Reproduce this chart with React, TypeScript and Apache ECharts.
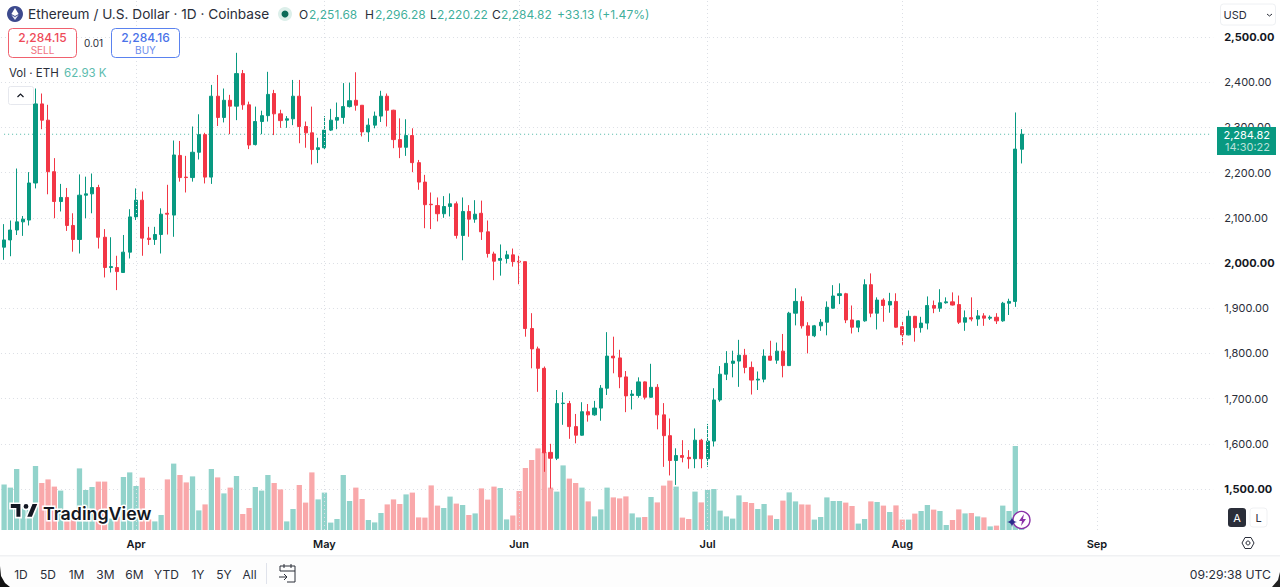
import React, { useEffect, useRef } from "react";
import * as echarts from "echarts";

echarts.graphic.registerShape(
  "tvLogo",
  echarts.graphic.extendPath(
    "M14 22H7V11H0V4h14v18zM28 22h-8l7.5-18h8L28 22zM20 4a4 4 0 1 1 0 8a4 4 0 0 1 0-8z",
    {}
  )
);
echarts.graphic.registerShape(
  "bolt",
  echarts.graphic.extendPath("M6 0L1 7h3L3 12L8 5H5z", {})
);
echarts.graphic.registerShape(
  "spark",
  echarts.graphic.extendPath("M5 0C5.4 3 7 4.6 10 5C7 5.4 5.4 7 5 10C4.6 7 3 5.4 0 5C3 4.6 4.6 3 5 0z", {})
);

const FONT = "Inter, 'Noto Sans', sans-serif";
const UP = "#089981";
const DOWN = "#f23645";
const UP_SOFT = "#92d3cb";
const DOWN_SOFT = "#f9a8aa";
const GRID_DOT = "#dcdfe5";

const monthTicks: Record<number, string> = { 21: "Apr", 51: "May", 82: "Jun", 112: "Jul", 143: "Aug", 174: "Sep" };
const periodButtons: [string, number][] = [
  ["1D", 21], ["5D", 48], ["1M", 76.5], ["3M", 105.5], ["6M", 134.5], ["YTD", 166.5], ["1Y", 198], ["5Y", 224], ["All", 249.5],
];
const priceLast = 2284.82;

// open, close, low, high
const ohlc: number[][] = [
  [2035,2051,2007,2086],[2051,2073,2015,2094],[2073,2091,2062,2209],[2091,2097,2060,2104],[2095,2177,2083,2201],
  [2177,2352,2165,2386],[2352,2316,2296,2375],[2316,2202,2152,2350],[2202,2136,2099,2232],[2136,2145,2114,2175],
  [2145,2083,2071,2166],[2083,2052,2025,2110],[2052,2150,2021,2196],[2150,2153,2099,2191],[2153,2167,2110,2198],
  [2167,2057,2032,2173],[2057,1990,1968,2075],[1990,1992,1979,2057],[1990,1981,1940,2016],[1979,2024,1979,2062],
  [2024,2102,2010,2119],[2102,2139,2095,2165],[2139,2055,2016,2158],[2055,2052,2040,2080],[2052,2063,2040,2080],
  [2063,2108,2021,2121],[2110,2108,2063,2173],[2106,2239,2058,2271],[2238,2189,2180,2270],[2190,2189,2156,2237],
  [2189,2245,2180,2302],[2245,2284,2229,2329],[2284,2190,2176,2288],[2190,2369,2175,2394],[2369,2322,2303,2416],
  [2322,2360,2311,2386],[2360,2347,2285,2372],[2347,2419,2316,2465],[2419,2350,2339,2427],[2350,2261,2252,2357],
  [2262,2313,2260,2346],[2313,2326,2285,2337],[2326,2373,2313,2423],[2375,2330,2283,2383],[2330,2315,2299,2339],
  [2316,2319,2299,2325],[2319,2369,2305,2405],[2369,2302,2265,2405],[2302,2288,2255,2313],[2288,2251,2218,2346],
  [2251,2255,2221,2277],[2255,2294,2250,2325],[2294,2316,2292,2341],[2316,2322,2296,2355],[2322,2346,2308,2398],
  [2346,2359,2344,2399],[2360,2349,2337,2422],[2349,2290,2280,2349],[2290,2305,2268,2320],[2305,2325,2298,2335],
  [2325,2369,2312,2381],[2369,2338,2302,2375],[2338,2273,2254,2339],[2273,2256,2232,2320],[2256,2282,2237,2318],
  [2282,2222,2201,2298],[2222,2179,2162,2228],[2179,2129,2077,2195],[2130,2129,2075,2156],[2127,2109,2092,2145],
  [2109,2125,2100,2148],[2125,2131,2103,2154],[2131,2061,2054,2136],[2061,2114,2006,2145],[2114,2097,2058,2128],
  [2097,2108,2089,2139],[2110,2069,2051,2138],[2069,2021,2012,2094],[2020,2004,1962,2025],[2006,2010,1972,2041],
  [2010,2018,1999,2027],[2018,2003,1992,2032],[2004,2002,1953,2016],[2003,1855,1837,2003],[1855,1810,1767,1889],
  [1810,1767,1715,1815],[1767,1580,1538,1771],[1581,1568,1501,1600],[1568,1689,1564,1719],[1689,1690,1642,1714],
  [1689,1638,1611,1695],[1638,1619,1601,1666],[1619,1671,1618,1692],[1671,1664,1649,1688],[1664,1679,1662,1695],
  [1679,1723,1651,1730],[1723,1794,1708,1847],[1794,1790,1756,1837],[1790,1748,1723,1808],[1748,1706,1670,1761],
  [1707,1710,1676,1719],[1707,1737,1702,1747],[1737,1703,1698,1738],[1703,1725,1702,1777],[1725,1664,1632,1732],
  [1664,1618,1549,1690],[1618,1563,1530,1656],[1563,1574,1509,1590],[1574,1570,1559,1608],[1570,1567,1545,1586],
  [1567,1608,1546,1634],[1608,1567,1546,1611],[1567,1606,1549,1644],[1606,1697,1594,1723],[1697,1754,1693,1772],
  [1754,1778,1741,1805],[1778,1783,1747,1806],[1783,1796,1726,1830],[1796,1769,1756,1810],[1769,1741,1709,1782],
  [1741,1743,1719,1760],[1743,1794,1736,1809],[1794,1785,1784,1828],[1785,1805,1777,1824],[1805,1773,1747,1843],
  [1773,1889,1772,1892],[1889,1915,1862,1944],[1915,1861,1855,1926],[1861,1840,1800,1869],[1839,1861,1836,1863],
  [1861,1869,1850,1876],[1869,1902,1840,1915],[1900,1927,1899,1951],[1928,1932,1909,1955],[1932,1874,1867,1934],
  [1874,1858,1844,1906],[1858,1872,1847,1873],[1872,1952,1870,1964],[1952,1889,1880,1977],[1889,1918,1853,1924],
  [1918,1906,1870,1922],[1907,1915,1890,1934],[1915,1858,1857,1933],[1859,1841,1819,1872],[1841,1882,1840,1895],
  [1882,1857,1826,1883],[1857,1867,1846,1881],[1867,1906,1853,1926],[1906,1900,1889,1917],[1900,1912,1892,1942],
  [1912,1914,1910,1924],[1914,1907,1906,1935],[1908,1869,1865,1928],[1869,1879,1850,1895],[1879,1876,1871,1924],
  [1876,1883,1861,1896],[1883,1878,1861,1889],[1878,1880,1874,1884],[1880,1872,1865,1889],[1872,1911,1870,1914],
  [1911,1915,1885,1921],[1915,2252,1903,2333],[2251.68,2284.82,2220.22,2296.28],
];

// thousands of ETH
const volumes: number[] = [
  228,212,305,117,117,320,235,253,217,197,47,53,308,200,215,242,242,57,67,265,288,220,262,53,43,75,253,332,275,238,
  268,98,128,305,263,183,212,270,80,110,215,197,275,235,203,43,105,225,137,288,153,187,37,55,275,145,212,155,50,38,
  85,128,153,130,178,187,63,62,223,122,110,167,132,125,75,83,208,152,217,210,53,73,195,310,350,408,390,212,192,323,
  257,235,212,143,68,103,212,163,158,168,83,63,65,165,138,222,247,217,62,55,192,138,200,205,97,68,57,173,140,135,
  105,130,73,55,147,188,143,128,127,52,65,163,145,145,137,120,32,55,143,140,122,90,123,52,52,82,95,125,102,95,
  25,50,103,83,85,68,63,18,22,122,95,420,62.93,
];

const categories: string[] = Array.from({ length: 193 }, (_, i) =>
  new Date(Date.UTC(2025, 2, 11 + i)).toISOString().slice(0, 10)
);
const monthIndexes = Object.keys(monthTicks).map(Number);

const fmt = (v: number) => v.toLocaleString("en-US", { minimumFractionDigits: 2, maximumFractionDigits: 2 });

const txt = (text: string, x: number, y: number, o: any = {}) => ({
  type: "text",
  silent: true,
  z: o.z ?? 100,
  style: {
    text,
    x,
    y,
    fill: o.fill ?? "#131722",
    fontFamily: FONT,
    fontSize: o.size ?? 12,
    fontWeight: o.weight ?? 400,
    textAlign: o.align ?? "left",
    textVerticalAlign: "middle",
    opacity: o.opacity ?? 1,
    stroke: o.stroke,
    lineWidth: o.lineWidth,
  },
});

const chrome: any[] = [
  // bottom toolbar
  { type: "rect", z: 90, silent: true, shape: { x: 0, y: 556, width: 1280, height: 31 }, style: { fill: "#fdfdfd" } },
  { type: "rect", z: 90, silent: true, shape: { x: 0, y: 555, width: 1280, height: 1.5 }, style: { fill: "#f0f1f3" } },
  { type: "polygon", z: 99, silent: true, shape: { points: [[0, 566], [1, 576], [5, 583], [10, 587], [0, 587]] }, style: { fill: "#111" } },
  { type: "polygon", z: 99, silent: true, shape: { points: [[1280, 572], [1278, 580], [1272, 587], [1280, 587]] }, style: { fill: "#222" } },
  ...periodButtons.map(([t, x]) => txt(t, x, 574, { align: "center", size: 12, fill: "#2a2e39" })),
  { type: "rect", z: 100, silent: true, shape: { x: 266, y: 563, width: 1, height: 21 }, style: { fill: "#e0e3eb" } },
  { type: "polyline", z: 100, silent: true, shape: { points: [[280, 571], [280, 566], [295, 566], [295, 582], [287, 582]] }, style: { stroke: "#2a2e39", fill: "none", lineWidth: 1 } },
  { type: "line", z: 100, silent: true, shape: { x1: 280, y1: 571, x2: 295, y2: 571 }, style: { stroke: "#2a2e39", lineWidth: 1 } },
  { type: "line", z: 100, silent: true, shape: { x1: 284, y1: 564, x2: 284, y2: 568 }, style: { stroke: "#2a2e39", lineWidth: 1 } },
  { type: "line", z: 100, silent: true, shape: { x1: 291, y1: 564, x2: 291, y2: 568 }, style: { stroke: "#2a2e39", lineWidth: 1 } },
  { type: "polyline", z: 100, silent: true, shape: { points: [[279, 577], [287, 577], [284, 574]] }, style: { stroke: "#2a2e39", fill: "none", lineWidth: 1 } },
  { type: "line", z: 100, silent: true, shape: { x1: 287, y1: 577, x2: 284, y2: 580 }, style: { stroke: "#2a2e39", lineWidth: 1 } },
  txt("09:29:38 UTC", 1271, 574, { align: "right", size: 12.2, fill: "#2a2e39" }),

  // header
  { type: "circle", z: 100, silent: true, shape: { cx: 15, cy: 14, r: 8 }, style: { fill: "#3d4a8e" } },
  { type: "polygon", z: 101, silent: true, shape: { points: [[15, 8], [18.6, 14], [15, 16], [11.4, 14]] }, style: { fill: "#fff" } },
  { type: "polygon", z: 101, silent: true, shape: { points: [[11.4, 15], [15, 17], [18.6, 15], [15, 20]] }, style: { fill: "#dfe2f2" } },
  txt("Ethereum / U.S. Dollar · 1D · Coinbase", 28, 14, { size: 13.65, fill: "#2a2e39" }),
  { type: "circle", z: 100, silent: true, shape: { cx: 285, cy: 14, r: 7 }, style: { fill: "#dcefea" } },
  { type: "circle", z: 101, silent: true, shape: { cx: 285, cy: 14, r: 3.5 }, style: { fill: "#0b6b58" } },
  txt("O", 299, 14, { size: 12, fill: "#2a2e39" }),
  txt("2,251.68", 309, 14, { size: 12, fill: UP, opacity: 0.8 }),
  txt("H", 365, 14, { size: 12, fill: "#2a2e39" }),
  txt("2,296.28", 375, 14, { size: 12, fill: UP, opacity: 0.8 }),
  txt("L", 430, 14, { size: 12, fill: "#2a2e39" }),
  txt("2,220.22", 437, 14, { size: 12, fill: UP, opacity: 0.8 }),
  txt("C", 492, 14, { size: 12, fill: "#2a2e39" }),
  txt("2,284.82", 501, 14, { size: 12, fill: UP, opacity: 0.8 }),
  txt("+33.13 (+1.47%)", 557, 14, { size: 12.1, fill: UP, opacity: 0.8 }),

  // sell / buy
  { type: "rect", z: 100, silent: true, shape: { x: 8.5, y: 28.5, width: 68, height: 29, r: 4 }, style: { fill: "#fff", stroke: "#f0616e", lineWidth: 1 } },
  txt("2,284.15", 42.5, 37, { align: "center", size: 12, weight: 500, fill: "#ee4a58" }),
  txt("SELL", 42.5, 49.5, { align: "center", size: 10, fill: "#f0747f" }),
  txt("0.01", 93.5, 43, { align: "center", size: 10, fill: "#2a2e39" }),
  { type: "rect", z: 100, silent: true, shape: { x: 111.5, y: 28.5, width: 68, height: 29, r: 4 }, style: { fill: "#fff", stroke: "#5a82ef", lineWidth: 1 } },
  txt("2,284.16", 145.5, 37, { align: "center", size: 12, weight: 500, fill: "#4a72e8" }),
  txt("BUY", 145.5, 49.5, { align: "center", size: 10, fill: "#6b8cec" }),

  // volume legend
  txt("Vol · ETH", 9, 73, { size: 11.5, fill: "#2a2e39" }),
  txt("62.93 K", 64, 73, { size: 11.5, fill: "#5cbcae" }),
  { type: "rect", z: 100, silent: true, shape: { x: 8.5, y: 86.5, width: 25, height: 18, r: 2 }, style: { fill: "#fff", stroke: "#e6e8ee", lineWidth: 1 } },
  { type: "polyline", z: 101, silent: true, shape: { points: [[17.5, 97], [20.5, 94], [23.5, 97]] }, style: { stroke: "#131722", fill: "none", lineWidth: 1.2 } },

  // currency
  { type: "rect", z: 100, silent: true, shape: { x: 1220.5, y: 4, width: 55, height: 21, r: 3 }, style: { fill: "#fff", stroke: "#eef0f3", lineWidth: 1 } },
  txt("USD", 1223.5, 15, { size: 11, fill: "#2a2e39" }),
  { type: "polyline", z: 101, silent: true, shape: { points: [[1267, 14], [1269.5, 16], [1272, 14]] }, style: { stroke: "#2a2e39", fill: "none", lineWidth: 1 } },

  // price tag
  { type: "rect", z: 100, silent: true, shape: { x: 1217, y: 127, width: 59, height: 28 }, style: { fill: UP } },
  txt("2,284.82", 1270, 134.5, { align: "right", size: 11, fill: "#ffffff" }),
  txt("14:30:22", 1270, 147, { align: "right", size: 11, fill: "#ffffff", opacity: 0.72 }),

  // auto / log
  { type: "rect", z: 100, silent: true, shape: { x: 1228, y: 508, width: 18, height: 19, r: 3 }, style: { fill: "#2a2e39" } },
  txt("A", 1237, 517.5, { align: "center", size: 11, fill: "#fff" }),
  { type: "rect", z: 100, silent: true, shape: { x: 1250, y: 508, width: 17, height: 19, r: 3 }, style: { fill: "#fff", stroke: "#f0f1f3", lineWidth: 1 } },
  txt("L", 1258.5, 517.5, { align: "center", size: 11, fill: "#2a2e39" }),
  { type: "polygon", z: 100, silent: true, shape: { points: [[1242, 543], [1245, 537.5], [1251, 537.5], [1254, 543], [1251, 548.5], [1245, 548.5]] }, style: { stroke: "#2a2e39", fill: "none", lineWidth: 1 } },
  { type: "circle", z: 100, silent: true, shape: { cx: 1248, cy: 543, r: 2 }, style: { stroke: "#2a2e39", fill: "none", lineWidth: 1 } },

  // logo
  { type: "tvLogo", z: 100, silent: true, x: 10, y: 500, scaleX: 0.8, scaleY: 0.8, style: { fill: "#131722", stroke: "#ffffff", lineWidth: 2 } },
  txt("TradingView", 43, 513, { size: 17.8, weight: 600, fill: "#131722", stroke: "#ffffff", lineWidth: 3 }),

  // bolt badge
  { type: "circle", z: 100, silent: true, shape: { cx: 1021.5, cy: 520, r: 8.5 }, style: { fill: "#fff", stroke: "#8a32a8", lineWidth: 1.4 } },
  { type: "bolt", z: 101, silent: true, x: 1018, y: 514, style: { fill: "#8a32a8" } },
  { type: "spark", z: 101, silent: true, x: 1007, y: 517, style: { fill: "#2c2a8c" } },
];

export default function App() {
  const ref = useRef<HTMLDivElement>(null);

  useEffect(() => {
    document.body.style.margin = "0";
    const chart = echarts.init(ref.current!, undefined, { renderer: "svg" });
    const left = 0.96;
    const width = 1212.2;
    chart.setOption({
      animation: false,
      backgroundColor: "#ffffff",
      grid: [
        { left, width, top: 37, height: 452 },
        { left, width, top: 0, height: 530 },
      ],
      xAxis: [
        { type: "category", gridIndex: 0, data: categories, show: false, boundaryGap: true },
        {
          type: "category",
          gridIndex: 1,
          data: categories,
          boundaryGap: true,
          axisLine: { show: false },
          axisTick: { show: false },
          splitLine: { show: false },
          axisLabel: {
            interval: (i: number) => monthTicks[i] !== undefined,
            formatter: (_: string, i: number) => monthTicks[i] ?? "",
            margin: 8,
            fontFamily: FONT,
            fontSize: 11,
            fontWeight: 600,
            color: "#131722",
            hideOverlap: false,
          },
        },
      ],
      yAxis: [
        {
          type: "value",
          gridIndex: 0,
          position: "right",
          min: 1500,
          max: 2500,
          interval: 100,
          axisLine: { show: false },
          axisTick: { show: false },
          splitLine: { show: true, lineStyle: { type: [1, 3], color: GRID_DOT, width: 1 } },
          axisLabel: {
            margin: 11,
            formatter: (v: number) => (v % 500 === 0 ? `{b|${fmt(v)}}` : `{n|${fmt(v)}}`),
            rich: {
              b: { fontFamily: FONT, fontSize: 11, fontWeight: 700, color: "#131722" },
              n: { fontFamily: FONT, fontSize: 11, fontWeight: 400, color: "#2a2e39" },
            },
          },
        },
        { type: "value", gridIndex: 1, min: 0, max: 2650, show: false, splitLine: { show: false } },
      ],
      series: [
        {
          type: "bar",
          xAxisIndex: 1,
          yAxisIndex: 1,
          z: 1,
          barWidth: 5.3,
          data: volumes.map((v, i) => ({
            value: v,
            itemStyle: { color: ohlc[i][1] >= ohlc[i][0] ? UP_SOFT : DOWN_SOFT },
          })),
          markLine: {
            silent: true,
            symbol: "none",
            label: { show: false },
            lineStyle: { type: [1, 3], color: GRID_DOT, width: 1 },
            data: monthIndexes.map((i) => ({ xAxis: i })),
          },
        },
        {
          type: "line",
          xAxisIndex: 0,
          yAxisIndex: 0,
          z: 2,
          silent: true,
          symbol: "none",
          lineStyle: { type: [1, 3], color: "#4fb8a6", width: 1 },
          data: [[0, priceLast], [192, priceLast]],
        },
        {
          type: "candlestick",
          xAxisIndex: 0,
          yAxisIndex: 0,
          z: 3,
          barWidth: 3.6,
          data: ohlc.map((r) => [r[0], r[1], r[2], r[3]]),
          itemStyle: { color: UP, color0: DOWN, borderColor: UP, borderColor0: DOWN, borderWidth: 1 },
        },
      ],
      graphic: { elements: chrome },
    });
    return () => chart.dispose();
  }, []);

  return <div ref={ref} style={{ position: "fixed", left: 0, top: 0, width: 1280, height: 587 }} />;
}
